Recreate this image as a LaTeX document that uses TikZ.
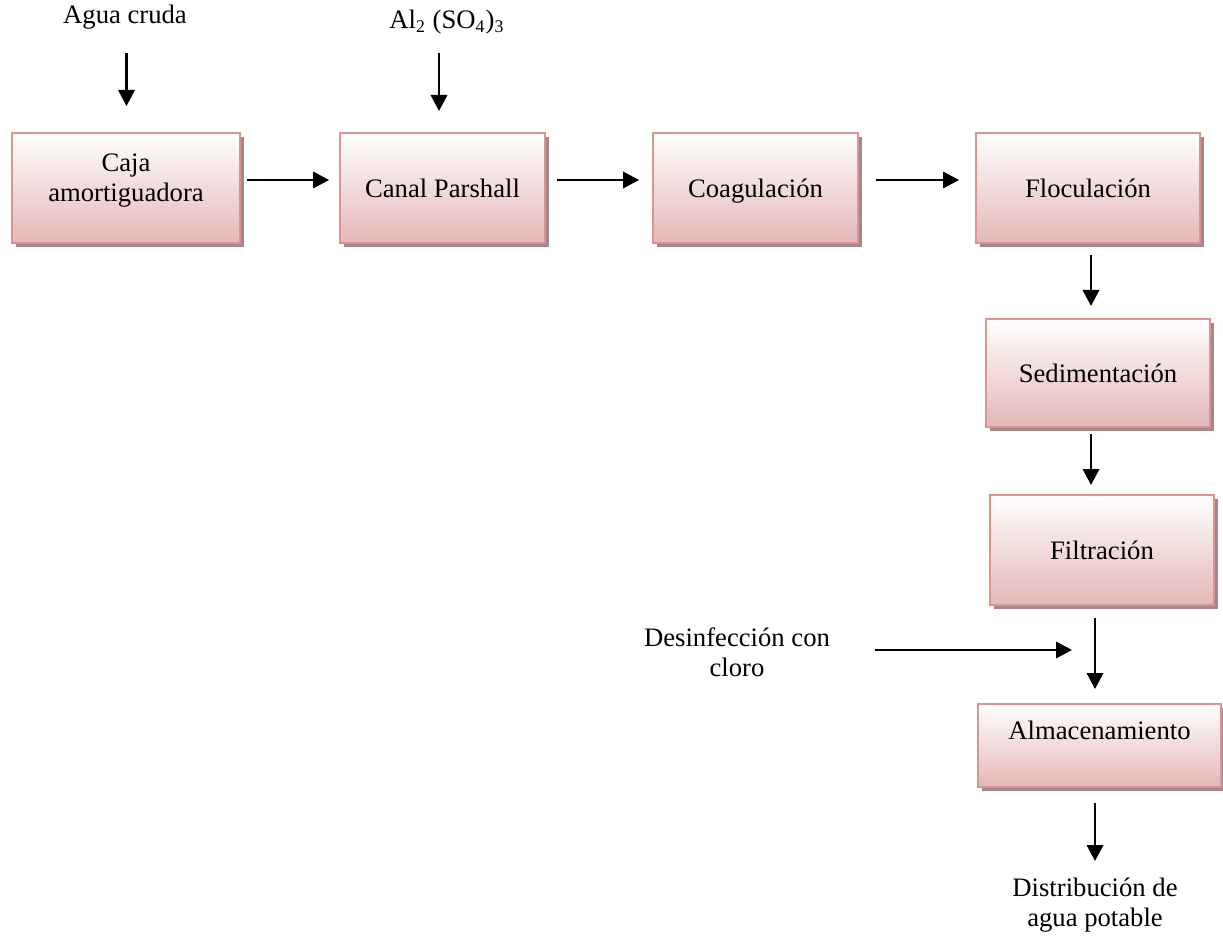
\documentclass[tikz,border=0pt]{standalone}
\usepackage{fontspec}
\setmainfont{Liberation Serif}
\usetikzlibrary{arrows.meta,shadows,calc}
\definecolor{boxborder}{RGB}{217,149,148}
\definecolor{boxbottom}{RGB}{229,182,182}
\definecolor{boxshadow}{RGB}{165,135,135}
\tikzset{
  stepbox/.style={draw=boxborder, line width=0.9pt, top color=white, bottom color=boxbottom,
    minimum height=49.5pt, align=center, inner sep=0pt, text height=11pt, text depth=2.5pt,
    drop shadow={shadow xshift=1.9pt, shadow yshift=-1.9pt, fill=boxshadow, opacity=1}},
  arr/.style={line width=0.95pt, -{Triangle[length=7.2pt,width=7.4pt]}},
  lbl/.style={align=center, inner sep=0pt}
}
\begin{document}
\begin{tikzpicture}[x=0.45pt,y=-0.45pt,font=\fontsize{12}{13.5}\selectfont]
\useasboundingbox (0,0) rectangle (1223,943);
% boxes
\node[stepbox, minimum width=102.6pt, text height=, text depth=9pt] (caja) at (126,188) {Caja\\amortiguadora};
\node[stepbox, minimum width=92.2pt] (canal) at (442.5,188) {Canal Parshall};
\node[stepbox, minimum width=92.2pt] (coag) at (755.5,188) {Coagulación};
\node[stepbox, minimum width=100.8pt] (floc) at (1088,188) {Floculación};
\node[stepbox, minimum width=100.8pt, minimum height=48.6pt] (sedim) at (1098,373) {Sedimentación};
\node[stepbox, minimum width=100.8pt] (filtr) at (1102,550) {Filtración};
\node[stepbox, minimum width=109.3pt, minimum height=37.4pt, text height=8.5pt, text depth=13.5pt] (almac) at (1099.5,745.5) {Almacenamiento};
% labels
\node[lbl] (agua) at (125,17) {Agua cruda};
\node[lbl] (sulf) at (447,22) {Al\textsubscript{2} (SO\textsubscript{4})\textsubscript{3}};
\node[lbl] (desinf) at (737,652) {Desinfección con\\cloro};
\node[lbl] (distr) at (1095,905) {Distribución de\\agua potable};
% coordinates
\coordinate (aguaA) at (126.5,53);
\coordinate (aguaB) at (126.5,106);
\coordinate (sulfA) at (439,53);
\coordinate (sulfB) at (439,111);
\coordinate (desA) at (875,650);
\coordinate (desB) at (1072,650);
\coordinate (filA) at (1095,618);
\coordinate (filB) at (1095,689);
\coordinate (almA) at (1095,803);
\coordinate (almB) at (1095,861);
% connectors
\draw[arr] (aguaA) -- (aguaB);
\draw[arr] (sulfA) -- (sulfB);
\draw[arr] ([shift={(6,-8)}]caja.east) -- ([shift={(-10,-8)}]canal.west);
\draw[arr] ([shift={(11,-8)}]canal.east) -- ([shift={(-13,-8)}]coag.west);
\draw[arr] ([shift={(17,-8)}]coag.east) -- ([shift={(-16,-8)}]floc.west);
\draw[arr] ([shift={(3,11)}]floc.south) -- ([shift={(-7,-12)}]sedim.north);
\draw[arr] ([shift={(-7,6)}]sedim.south) -- ([shift={(-11,-9)}]filtr.north);
\draw[arr] (filA) -- (filB);
\draw[arr] (desA) -- (desB);
\draw[arr] (almA) -- (almB);
\end{tikzpicture}
\end{document}
